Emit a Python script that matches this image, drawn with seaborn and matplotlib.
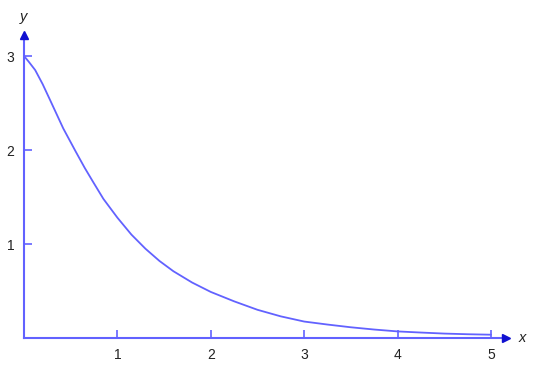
import numpy as np
import pandas as pd
import seaborn as sns
import matplotlib.pyplot as plt

# %% Data

x_vals = [0.0, 0.05, 0.12, 0.2, 0.28, 0.35, 0.42, 0.55, 0.65, 0.74, 0.85, 1.0,
          1.15, 1.3, 1.45, 1.6, 1.8, 2.0, 2.25, 2.5, 2.75, 3.0, 3.25, 3.5,
          3.75, 4.0, 4.25, 4.5, 4.75, 5.0]
y_vals = [3.0, 2.94, 2.85, 2.70, 2.53, 2.38, 2.23, 1.99, 1.81, 1.66, 1.48, 1.28,
          1.10, 0.95, 0.82, 0.71, 0.59, 0.49, 0.39, 0.30, 0.23, 0.175, 0.143, 0.114,
          0.09, 0.07, 0.058, 0.047, 0.04, 0.035]
x_ticks = [1, 2, 3, 4, 5]
y_ticks = [1, 2, 3]

df = pd.DataFrame({'x': x_vals, 'y': y_vals})

# %% Style

sns.set_style('white')
plt.rcParams['font.family'] = ['Liberation Sans', 'DejaVu Sans']

line_col = '#6262ff'
arrow_col = '#1010d0'

W, H = 541, 373
fig = plt.figure(figsize=(W / 100, H / 100), dpi=100)

# pixel layout: origin at (24, 338), ~93.4 px per x unit, ~94 px per y unit
x_max, y_max = 5.3, 3.3
ax = fig.add_axes([24 / W, (H - 338) / H, x_max * 93.4 / W, y_max * 94 / H])
ax.set_xlim(0, x_max)
ax.set_ylim(0, y_max)

sns.lineplot(data=df, x='x', y='y', ax=ax, color=line_col, lw=1.3)

# Axes lines with arrowheads
for s in ['top', 'right']:
    ax.spines[s].set_visible(False)
ax.spines['left'].set_color(line_col)
ax.spines['bottom'].set_color(line_col)
ax.spines['left'].set_linewidth(1.5)
ax.spines['bottom'].set_linewidth(1.5)
ax.spines['bottom'].set_bounds(0, 5.14)
ax.spines['left'].set_bounds(0, 3.2)
ax.plot([5.16], [0], marker='>', color=arrow_col, ms=6, clip_on=False, zorder=5)
ax.plot([0], [3.22], marker='^', color=arrow_col, ms=6, clip_on=False, zorder=5)

# Ticks
ax.set_xticks(x_ticks)
ax.set_yticks(y_ticks)
ax.set_xticklabels([str(t) for t in x_ticks])
ax.set_yticklabels([str(t) for t in y_ticks])
ax.tick_params(bottom=True, left=True, direction='in', length=6, width=1.2,
               color=line_col, labelsize=10, labelcolor='#222222', pad=7)

ax.set_xlabel('')
ax.set_ylabel('')
ax.text(5.3, 0, 'x', style='italic', fontsize=10.5, ha='left', va='center', color='#222222')
ax.text(0, 3.42, 'y', style='italic', fontsize=10.5, ha='center', va='center',
        color='#222222', clip_on=False)

fig.savefig('out.png', dpi=100)
